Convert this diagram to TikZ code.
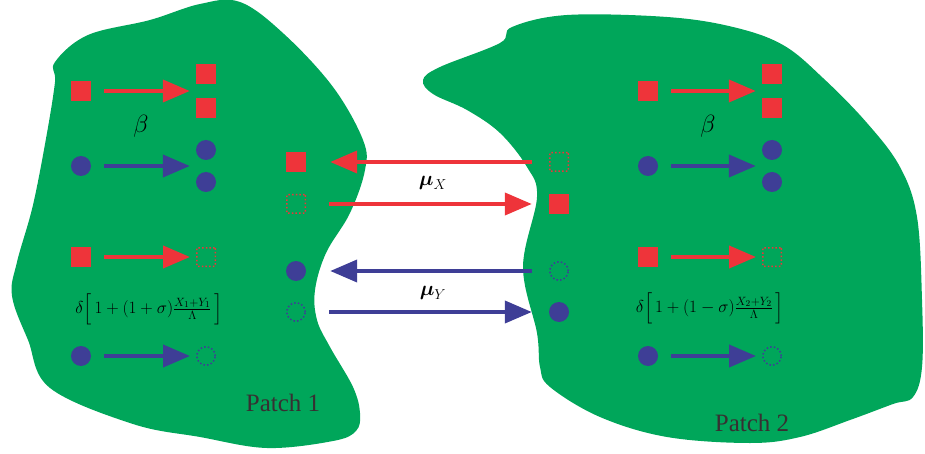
\documentclass[tikz,border=0pt]{standalone}
\usepackage{amsmath}
\usepackage{fontspec}
\setmainfont{Liberation Serif}
\usetikzlibrary{arrows.meta,calc}
\definecolor{patchgreen}{RGB}{0,166,90}
\definecolor{xred}{RGB}{238,52,58}
\definecolor{yblue}{RGB}{62,62,150}
\definecolor{labelgray}{RGB}{55,48,50}
\tikzset{
      xfull/.style={rectangle, fill=xred, minimum size=20pt, inner sep=0pt},
      xempty/.style={rectangle, rounded corners=0.6pt, draw=xred, line width=1.5pt,
        dash pattern=on 1.5pt off 2.2pt, minimum size=18.5pt, inner sep=0pt},
      yfull/.style={circle, fill=yblue, minimum size=20pt, inner sep=0pt},
      yempty/.style={circle, draw=yblue, line width=1.5pt,
        dash pattern=on 1.5pt off 2.2pt, minimum size=18.5pt, inner sep=0pt},
      xflow/.style={draw=xred, line width=4pt, -{Triangle[length=27pt,width=22pt]}},
      yflow/.style={draw=yblue, line width=4pt, -{Triangle[length=27pt,width=22pt]}},
      patchblob/.style={fill=patchgreen, draw=none},
      patchlabel/.style={text=labelgray, font=\fontsize{25}{30}\selectfont},
      ratelabel/.style={font=\fontsize{25}{30}\selectfont},
      migrlabel/.style={font=\fontsize{20}{24}\selectfont},
      deathlabel/.style={font=\fontsize{18}{22}\selectfont}
    }

\begin{document}
\begin{tikzpicture}[x=1pt,y=-1pt]
    \useasboundingbox (0,0) rectangle (925,454);
    % the two patches
    \fill[patchblob] plot[smooth cycle, tension=0.6] coordinates {
      (55,62) (88,35) (150,20) (200,4) (240,2) (284,34) (333,87) (363,140)
      (365,170) (350,213) (326,253) (315,290) (317,320) (330,347) (353,387)
      (360,413) (356,431) (333,441) (267,448) (200,437) (133,424) (50,388)
      (28,340) (12,296) (17,262) (33,205) (47,133) (55,82)};
    \fill[patchblob] plot[smooth cycle, tension=0.6] coordinates {
      (500,43) (512,27) (567,15) (667,17) (733,27) (783,45) (823,78) (867,123)
      (900,167) (917,217) (922,300) (922,367) (913,397) (893,404) (850,420)
      (800,437) (750,443) (667,437) (600,417) (550,387) (540,367) (537,333)
      (523,267) (537,197) (527,167) (500,133) (467,110) (433,94) (423,80)
      (440,67)};
    % patch 1
    \node[xfull] (xa1) at (81,91) {};
    \node[xfull] (xb1) at (206,74) {};
    \node[xfull] (xc1) at (206,108) {};
    \node[yfull] (ya1) at (81,166) {};
    \node[yfull] (yb1) at (206,150) {};
    \node[yfull] (yc1) at (206,182) {};
    \node[xfull] (xd1) at (81,257) {};
    \node[xempty] (xe1) at (206,257) {};
    \node[yfull] (yd1) at (81,356) {};
    \node[yempty] (ye1) at (206,356) {};
    \node[ratelabel] (beta1) at (141,126) {$\beta$};
    \node[deathlabel] (death1) at (149,309)
      {$\delta\Big[\,1+(1+\sigma)\tfrac{X_1+Y_1}{\Lambda}\,\Big]$};
    \node[xfull] (xin1) at (296,162) {};
    \node[xempty] (xout1) at (296,204) {};
    \node[yfull] (yin1) at (296,271) {};
    \node[yempty] (yout1) at (296,312) {};
    \node[patchlabel] (name1) at (283,403) {Patch 1};
    % patch 2
    \node[xfull] (xa2) at (648,91) {};
    \node[xfull] (xb2) at (772,74) {};
    \node[xfull] (xc2) at (772,108) {};
    \node[yfull] (ya2) at (648,166) {};
    \node[yfull] (yb2) at (772,150) {};
    \node[yfull] (yc2) at (772,182) {};
    \node[xfull] (xd2) at (648,257) {};
    \node[xempty] (xe2) at (772,257) {};
    \node[yfull] (yd2) at (648,356) {};
    \node[yempty] (ye2) at (772,356) {};
    \node[ratelabel] (beta2) at (708,126) {$\beta$};
    \node[deathlabel] (death2) at (710,308)
      {$\delta\Big[\,1+(1-\sigma)\tfrac{X_2+Y_2}{\Lambda}\,\Big]$};
    \node[xempty] (xout2) at (559,162) {};
    \node[xfull] (xin2) at (559,204) {};
    \node[yempty] (yout2) at (559,271) {};
    \node[yfull] (yin2) at (559,312) {};
    \node[patchlabel] (name2) at (752,423) {Patch 2};
    % local dynamics
    \draw[xflow, shorten <=13pt, shorten >=6pt] (xa1.east) -- ($(xb1.west)!.5!(xc1.west)$);
    \draw[yflow, shorten <=13pt, shorten >=6pt] (ya1.east) -- ($(yb1.west)!.5!(yc1.west)$);
    \draw[xflow, shorten <=13pt, shorten >=6pt] (xd1.east) -- (xe1.west);
    \draw[yflow, shorten <=13pt, shorten >=6pt] (yd1.east) -- (ye1.west);
    \draw[xflow, shorten <=13pt, shorten >=6pt] (xa2.east) -- ($(xb2.west)!.5!(xc2.west)$);
    \draw[yflow, shorten <=13pt, shorten >=6pt] (ya2.east) -- ($(yb2.west)!.5!(yc2.west)$);
    \draw[xflow, shorten <=13pt, shorten >=6pt] (xd2.east) -- (xe2.west);
    \draw[yflow, shorten <=13pt, shorten >=6pt] (yd2.east) -- (ye2.west);
    % migration
    \draw[xflow, shorten <=17pt, shorten >=24pt] (xout2.west) -- (xin1.east);
    \draw[xflow, shorten <=23pt, shorten >=17pt] (xout1.east) -- (xin2.west);
    \draw[yflow, shorten <=17pt, shorten >=24pt] (yout2.west) -- (yin1.east);
    \draw[yflow, shorten <=23pt, shorten >=17pt] (yout1.east) -- (yin2.west);
    \node[migrlabel] (mux) at (433,183) {$\boldsymbol{\mu}_X$};
    \node[migrlabel] (muy) at (433,293) {$\boldsymbol{\mu}_Y$};
    \end{tikzpicture}
\end{document}
